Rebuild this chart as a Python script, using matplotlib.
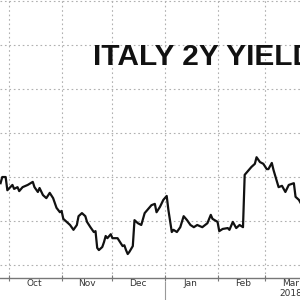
import pandas as pd
import matplotlib
matplotlib.use("Agg")
import matplotlib.pyplot as plt
import matplotlib.transforms as mtrans

# ---- data ----
dates = [
    "2017-09-26", "2017-09-27", "2017-09-29", "2017-09-30", "2017-10-03", "2017-10-04",
    "2017-10-06", "2017-10-07", "2017-10-09", "2017-10-12", "2017-10-15", "2017-10-16",
    "2017-10-18", "2017-10-19", "2017-10-21", "2017-10-23", "2017-10-25", "2017-10-27",
    "2017-10-29", "2017-10-31", "2017-11-01", "2017-11-02", "2017-11-04", "2017-11-06",
    "2017-11-08", "2017-11-10", "2017-11-11", "2017-11-13", "2017-11-15", "2017-11-16",
    "2017-11-18", "2017-11-20", "2017-11-21", "2017-11-22", "2017-11-23", "2017-11-25",
    "2017-11-26", "2017-11-27", "2017-11-28", "2017-11-30", "2017-12-01", "2017-12-03",
    "2017-12-04", "2017-12-07", "2017-12-08", "2017-12-09", "2017-12-10", "2017-12-11",
    "2017-12-13", "2017-12-14", "2017-12-16", "2017-12-18", "2017-12-20", "2017-12-22",
    "2017-12-24", "2017-12-26", "2017-12-27", "2017-12-29", "2017-12-31", "2018-01-02",
    "2018-01-03", "2018-01-05", "2018-01-06", "2018-01-08", "2018-01-10", "2018-01-12",
    "2018-01-14", "2018-01-16", "2018-01-18", "2018-01-20", "2018-01-23", "2018-01-26",
    "2018-01-28", "2018-01-29", "2018-02-01", "2018-02-02", "2018-02-04", "2018-02-07",
    "2018-02-08", "2018-02-10", "2018-02-12", "2018-02-14", "2018-02-16", "2018-02-17",
    "2018-02-19", "2018-02-21", "2018-02-23", "2018-02-24", "2018-02-26", "2018-02-28",
    "2018-03-02", "2018-03-03", "2018-03-05", "2018-03-06", "2018-03-09", "2018-03-11",
    "2018-03-13", "2018-03-15", "2018-03-18", "2018-03-19", "2018-03-21", "2018-03-22",
]
yields = [
    -0.214, -0.200, -0.200, -0.230, -0.218, -0.227,
    -0.223, -0.232, -0.223, -0.218, -0.211, -0.223,
    -0.234, -0.225, -0.241, -0.248, -0.236, -0.248,
    -0.270, -0.280, -0.277, -0.295, -0.302, -0.309,
    -0.320, -0.309, -0.289, -0.282, -0.289, -0.302,
    -0.314, -0.325, -0.323, -0.361, -0.366, -0.359,
    -0.348, -0.334, -0.339, -0.330, -0.339, -0.339,
    -0.339, -0.357, -0.355, -0.366, -0.375, -0.370,
    -0.357, -0.298, -0.305, -0.309, -0.282, -0.273,
    -0.264, -0.261, -0.280, -0.268, -0.252, -0.243,
    -0.275, -0.325, -0.320, -0.325, -0.314, -0.289,
    -0.298, -0.309, -0.314, -0.309, -0.314, -0.305,
    -0.286, -0.295, -0.302, -0.323, -0.318, -0.316,
    -0.320, -0.302, -0.316, -0.309, -0.314, -0.195,
    -0.186, -0.177, -0.170, -0.155, -0.166, -0.170,
    -0.182, -0.182, -0.168, -0.184, -0.223, -0.220,
    -0.234, -0.218, -0.214, -0.245, -0.252, -0.259,
]
month_starts = ["2017-10-01", "2017-11-01", "2017-12-01", "2018-01-01", "2018-02-01", "2018-03-01"]
month_labels = ["Oct", "Nov", "Dec", "Jan", "Feb", "Mar"]
grid_levels = [-0.4, -0.3, -0.2, -0.1, 0.0, 0.1, 0.2]
title = "ITALY 2Y YIELD"
year_label = "2018"

x = pd.to_datetime(dates)
starts = pd.to_datetime(month_starts)
mids = starts + pd.Timedelta(days=15)

fig = plt.figure(figsize=(3, 3), dpi=100)
ax = fig.add_axes([0, 0.0733, 1, 0.9267])

ax.plot(x, yields, color="#111111", lw=1.6)

ax.set_xlim(pd.Timestamp("2017-09-25 16:00"), pd.Timestamp("2018-03-21 15:00"))
ax.set_ylim(-0.4295, 0.2023)

# grid
grid_kw = dict(color="#b0b0b0", lw=0.8, ls=(0, (1.5, 2.5)), zorder=0)
for g in grid_levels:
    ax.axhline(g, **grid_kw)
for s in starts:
    ax.axvline(s, **grid_kw)

for side in ["top", "left", "right"]:
    ax.spines[side].set_visible(False)
ax.spines["bottom"].set_color("#777777")
ax.spines["bottom"].set_linewidth(1.0)

ax.set_yticks([])
ax.set_xticks(starts)
ax.set_xticklabels([])
ax.tick_params(axis="x", which="major", direction="inout", length=5, color="#777777")
ax.set_xticks(mids, minor=True)
ax.set_xticklabels(month_labels, minor=True)
ax.tick_params(axis="x", which="minor", length=0, pad=1, labelsize=6.5, labelcolor="#333333")

# year label + year separator
tr = mtrans.blended_transform_factory(ax.transData, fig.transFigure)
ax.text(mids[-1], 0.022, year_label, transform=tr, ha="center", va="center",
        fontsize=6.5, color="#333333")
ax.plot([starts[3], starts[3]], [0.0, 0.06], transform=tr, color="#999999",
        lw=0.8, clip_on=False)

fig.text(0.31, 0.81, title, fontsize=21.5, fontweight="bold",
         family="Liberation Sans", color="#111111", ha="left", va="center")

fig.savefig("out.png", dpi=100)
